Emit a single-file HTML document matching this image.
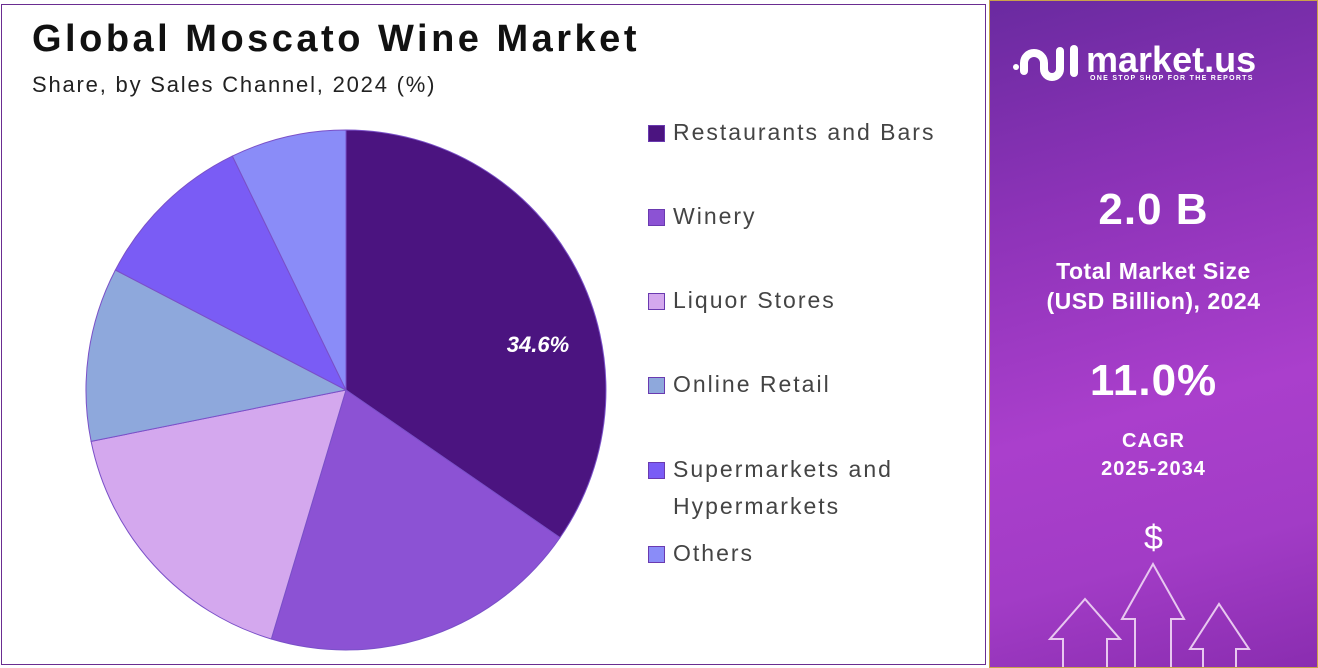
<!DOCTYPE html>
<html><head><style>
body{margin:0;width:1318px;height:668px;background:#fff;font-family:"Liberation Sans",sans-serif;overflow:hidden;position:relative}
.lp{position:absolute;left:1px;top:4px;width:983px;height:659px;border:1.5px solid #6a2d91}
.t{position:absolute;left:32px;top:18px;font-size:38px;font-weight:bold;color:#111;letter-spacing:3.5px}
.s{position:absolute;left:32px;top:72px;font-size:22px;color:#222;letter-spacing:1.8px}
.lg{position:absolute;left:648px;font-size:23px;color:#444;line-height:37px;letter-spacing:2px}
.lg i{position:absolute;left:0;top:11px;width:15px;height:15px;border:1px solid #6a3ab0}
.lg span{position:absolute;left:25px;white-space:nowrap}
.rp{position:absolute;left:989px;top:0;width:327px;height:666px;border:1px solid #c9a24a;background:linear-gradient(165deg,#6a2aa0 0%,#8d33b8 30%,#aa3fcc 60%,#a23cc6 80%,#8a2db0 100%);color:#fff;text-align:center;overflow:hidden}
.rp div{position:absolute;width:100%;font-weight:bold}
</style></head><body>
<div class="lp"></div>
<div class="t">Global Moscato Wine Market</div>
<div class="s">Share, by Sales Channel, 2024 (%)</div>
<svg width="985" height="668" style="position:absolute;left:0;top:0">
<g stroke="#7a50c8" stroke-width="1">
<path d="M346,390 L346,130 A260,260 0 0 1 560,537.6Z" fill="#4b1480"/>
<path d="M346,390 L560,537.6 A260,260 0 0 1 271.3,639Z" fill="#8c52d4"/>
<path d="M346,390 L271.3,639 A260,260 0 0 1 91.1,441.4Z" fill="#d4a8ee"/>
<path d="M346,390 L91.1,441.4 A260,260 0 0 1 115.4,270Z" fill="#8ea8dc"/>
<path d="M346,390 L115.4,270 A260,260 0 0 1 232.4,156.1Z" fill="#7a5cf5"/>
<path d="M346,390 L232.4,156.1 A260,260 0 0 1 346,130Z" fill="#8a8cf8"/>
</g>
<text x="538" y="352" fill="#fff" font-size="22" font-weight="bold" font-style="italic" text-anchor="middle" font-family="Liberation Sans">34.6%</text>
</svg>
<div class="lg" style="top:114px"><i style="background:#4b1480"></i><span>Restaurants and Bars</span></div>
<div class="lg" style="top:198px"><i style="background:#8c52d4"></i><span>Winery</span></div>
<div class="lg" style="top:282px"><i style="background:#d4a8ee"></i><span>Liquor Stores</span></div>
<div class="lg" style="top:366px"><i style="background:#8ea8dc"></i><span>Online Retail</span></div>
<div class="lg" style="top:451px"><i style="background:#7a5cf5"></i><span>Supermarkets and<br>Hypermarkets</span></div>
<div class="lg" style="top:535px"><i style="background:#8a8cf8"></i><span>Others</span></div>
<div class="rp">
<svg width="80" height="50" style="position:absolute;left:20px;top:40px" fill="none" stroke="#fff" stroke-width="8" stroke-linecap="round">
<circle cx="6" cy="26" r="3" fill="#fff" stroke="none"/>
<path d="M14,30 V22 A10,10 0 0 1 34,22 V28 A8,8 0 0 0 50,28 V10"/>
<path d="M64,8 V32"/>
</svg>
<div style="top:38px;left:96px;width:220px;font-size:36px;text-align:left">market.us</div>
<div style="top:74px;left:100px;width:220px;font-size:7px;text-align:left;letter-spacing:1.3px">ONE STOP SHOP FOR THE REPORTS</div>
<div style="top:184px;font-size:44px;letter-spacing:1px">2.0 B</div>
<div style="top:255px;font-size:23px;line-height:30px;letter-spacing:0.5px">Total Market Size<br>(USD Billion), 2024</div>
<div style="top:355px;font-size:44px;letter-spacing:1px">11.0%</div>
<div style="top:426px;font-size:20px;line-height:28px;letter-spacing:1px">CAGR<br>2025-2034</div>
<div style="top:518px;font-size:34px;font-weight:normal">$</div>
<svg width="327" height="110" style="position:absolute;left:0;top:558px" fill="none" stroke="#e8c8f0" stroke-width="2">
<path d="M73,110 V80 H60 L95,40 L130,80 H117 V110"/>
<path d="M145,110 V60 H132 L163,5 L194,60 H181 V110"/>
<path d="M213,110 V90 H200 L229,45 L259,90 H246 V110"/>
</svg>
</div>
</body></html>
